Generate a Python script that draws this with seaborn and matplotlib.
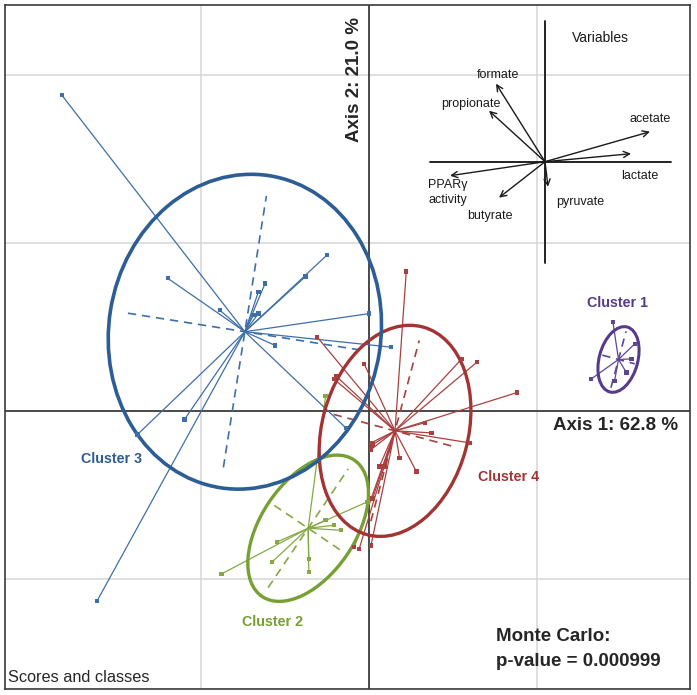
import numpy as np
import pandas as pd
import matplotlib
matplotlib.use("Agg")
import matplotlib.pyplot as plt
from matplotlib.patches import Ellipse
import seaborn as sns

# ---------------- data ----------------
cluster_names = ["Cluster 1", "Cluster 2", "Cluster 3", "Cluster 4"]

c1_x = [1.45, 1.32, 1.46, 1.58, 1.56, 1.53]
c1_y = [0.53, 0.19, 0.18, 0.40, 0.31, 0.23]

c2_x = [-0.88, -0.55, -0.58, -0.36, -0.36, -0.26, -0.21, -0.17, -0.01, -0.26]
c2_y = [-0.97, -0.78, -0.90, -0.88, -0.96, -0.65, -0.68, -0.71, -0.54, 0.09]

c3_x = [-1.83, -1.20, -0.89, -0.66, -0.62, -0.38, -0.25, 0.00, 0.13, -0.56,
        -0.14, -1.38, -1.10, -1.62, -0.66, -0.69]
c3_y = [1.88, 0.79, 0.60, 0.71, 0.76, 0.80, 0.93, 0.58, 0.38, 0.39,
        -0.10, -0.14, -0.05, -1.13, 0.58, 0.57]

c4_x = [0.22, -0.31, -0.03, -0.20, -0.21, 0.55, 0.64, 0.88, 0.33, 0.37, 0.60,
        0.01, 0.02, 0.01, 0.18, 0.28, 0.06, 0.09, -0.09, -0.06, 0.01, 0.02]
c4_y = [0.83, 0.44, 0.28, 0.21, 0.19, 0.31, 0.29, 0.11, -0.07, -0.13, -0.19,
        -0.19, -0.20, -0.23, -0.28, -0.36, -0.33, -0.33, -0.81, -0.82, -0.80, -0.52]

# class ellipses: semi-axes (major, minor) and tilt in degrees
ell_major = [0.20, 0.49, 0.94, 0.64]
ell_minor = [0.115, 0.28, 0.81, 0.435]
ell_angle = [-15, -34, -9, -15]

# variable loadings (correlation circle inset)
var_names = ["formate", "propionate", "acetate", "lactate", "PPARγ\nactivity", "butyrate", "pyruvate"]
var_x = [-0.49, -0.56, 1.05, 0.86, -0.95, -0.46, 0.03]
var_y = [0.78, 0.51, 0.30, 0.08, -0.14, -0.36, -0.25]

axis1_pct = 62.8
axis2_pct = 21.0
p_value = 0.000999

# ---------------- style / layout ----------------
line_col = {"Cluster 1": "#5E4592", "Cluster 2": "#86A844",
            "Cluster 3": "#3E6FA8", "Cluster 4": "#A94040"}
ell_col = {"Cluster 1": "#563B8A", "Cluster 2": "#77A033",
           "Cluster 3": "#2D5D95", "Cluster 4": "#A33434"}
ell_lw = {"Cluster 1": 2.2, "Cluster 2": 2.4, "Cluster 3": 2.6, "Cluster 4": 2.4}
label_pos = {"Cluster 1": (1.478, 0.645), "Cluster 2": (-0.573, -1.258),
             "Cluster 3": (-1.532, -0.286), "Cluster 4": (0.826, -0.393)}

frames = []
for name, xs, ys in [("Cluster 1", c1_x, c1_y), ("Cluster 2", c2_x, c2_y),
                     ("Cluster 3", c3_x, c3_y), ("Cluster 4", c4_x, c4_y)]:
    frames.append(pd.DataFrame({"x": xs, "y": ys, "cluster": name}))
df = pd.concat(frames, ignore_index=True)

sns.set_theme(style="white")
plt.rcParams["font.family"] = ["Liberation Sans", "DejaVu Sans"]

W, H = 697, 695
fig = plt.figure(figsize=(W / 100, H / 100), dpi=100)
L, R, T, B = 5, 690, 5, 689
ax = fig.add_axes([L / W, 1 - B / H, (R - L) / W, (B - T) / H])

# 1 data unit = 168 px ; origin at pixel (369.3, 411)
ux, uy, ox, oy = 168.0, 168.0, 369.3, 411.0
ax.set_xlim((L - ox) / ux, (R - ox) / ux)
ax.set_ylim((oy - B) / uy, (oy - T) / uy)

# grid
for gx in [-1, 1]:
    ax.axvline(gx, color="#D9D9D9", lw=1.2, zorder=0)
for gy in [-1, 1, 2]:
    ax.axhline(gy, color="#D9D9D9", lw=1.2, zorder=0)
ax.axvline(0, color="#3A3A3A", lw=1.3, zorder=1)
ax.axhline(0, color="#3A3A3A", lw=1.3, zorder=1)

# star lines, ellipses, dashed ellipse axes
order = ["Cluster 2", "Cluster 4", "Cluster 3", "Cluster 1"]
for name in order:
    sub = df[df.cluster == name]
    cx, cy = sub.x.mean(), sub.y.mean()
    for px, py in zip(sub.x, sub.y):
        ax.plot([cx, px], [cy, py], color=line_col[name], lw=0.9, zorder=2)
    i = cluster_names.index(name)
    a, b, ang = ell_major[i], ell_minor[i], ell_angle[i]
    e = Ellipse((cx, cy), width=2 * b, height=2 * a, angle=ang, fill=False,
                edgecolor=ell_col[name], lw=ell_lw[name], zorder=4)
    ax.add_patch(e)
    t = np.deg2rad(ang)
    major_dir = np.array([-np.sin(t), np.cos(t)])
    minor_dir = np.array([np.cos(t), np.sin(t)])
    for d, r in [(major_dir, a * 0.87), (minor_dir, b * 0.87)]:
        ax.plot([cx - d[0] * r, cx + d[0] * r], [cy - d[1] * r, cy + d[1] * r],
                color=line_col[name], lw=1.2, ls=(0, (5, 3.5)), zorder=3)
    lx, ly = label_pos[name]
    ax.text(lx, ly, name, color=ell_col[name], fontsize=10.3, fontweight="bold",
            ha="center", va="center", zorder=6)

sns.scatterplot(data=df, x="x", y="y", hue="cluster", palette=line_col,
                marker="s", s=10, linewidth=0, legend=False, ax=ax, zorder=5)

# ---------------- variables inset ----------------
io_x, io_y = (545 - ox) / ux, (oy - 161.7) / uy
sc = 100 / 168.0
ax.plot([io_x - 115 / ux, io_x + 126 / ux], [io_y, io_y], color="#111111", lw=1.3, zorder=2)
ax.plot([io_x, io_x], [io_y - 101 / uy, io_y + 141 / uy], color="#111111", lw=1.3, zorder=2)
lab_off = {"formate": (2, 9), "propionate": (-18, 7), "acetate": (0, 13),
           "lactate": (9, -22), "PPARγ\nactivity": (-2, -17),
           "butyrate": (-9, -18), "pyruvate": (32, -15)}
for nm, vx, vy in zip(var_names, var_x, var_y):
    tip = (io_x + vx * sc, io_y + vy * sc)
    ax.annotate("", xy=tip, xytext=(io_x, io_y),
                arrowprops=dict(arrowstyle="->", lw=1.0, color="#1A1A1A",
                                mutation_scale=11, shrinkA=0, shrinkB=0), zorder=3)
    ax.annotate(nm, xy=tip, xytext=lab_off[nm], textcoords="offset pixels",
                ha="center", va="center", fontsize=9, color="#1A1A1A",
                linespacing=1.3, zorder=6)
ax.text(io_x + 55 / ux, io_y + 124 / uy, "Variables", fontsize=10,
        ha="center", va="center", color="#1A1A1A")

# ---------------- texts ----------------
fig.text(616 / W, 1 - 426 / H, f"Axis 1: {axis1_pct:.1f} %", fontsize=13.5,
         fontweight="bold", ha="center", va="center")
fig.text(355 / W, 1 - 80 / H, f"Axis 2: {axis2_pct:.1f} %", fontsize=13.5,
         fontweight="bold", ha="center", va="center", rotation=90)
fig.text(496 / W, 1 - 636.5 / H, "Monte Carlo:", fontsize=13.5,
         fontweight="bold", ha="left", va="center")
fig.text(496 / W, 1 - 661 / H, f"p-value = {p_value:.6f}", fontsize=13.5,
         fontweight="bold", ha="left", va="center")
fig.text(8 / W, 1 - 677 / H, "Scores and classes", fontsize=11.7,
         ha="left", va="center")

ax.set_xticks([])
ax.set_yticks([])
ax.set_xlabel("")
ax.set_ylabel("")
for s in ax.spines.values():
    s.set_visible(True)
    s.set_color("#3A3A3A")
    s.set_linewidth(1.2)

fig.savefig("out.png", dpi=100)
